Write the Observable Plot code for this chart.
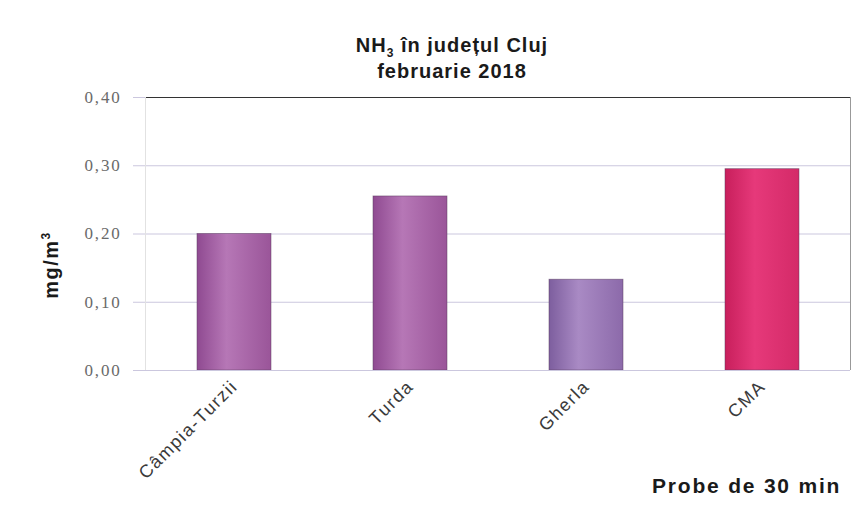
<!DOCTYPE html>
<html>
<head>
<meta charset="utf-8">
<script src="https://cdn.jsdelivr.net/npm/d3@7"></script>
<script src="https://cdn.jsdelivr.net/npm/@observablehq/plot@0.6"></script>
<style>
  body { margin: 0; background: #fff; }
  #wrap { position: relative; width: 862px; height: 510px; overflow: hidden; font-family: "Liberation Sans", Arial, sans-serif; }
  .title { position: absolute; left: 202px; width: 500px; text-align: center; font-weight: bold; font-size: 20px; letter-spacing: 1px; color: #1a1a1a; }
  .ylab { position: absolute; left: 51px; top: 265px; transform: translate(-50%, -50%) rotate(-90deg); font-weight: bold; font-size: 20px; letter-spacing: 1.5px; color: #1a1a1a; white-space: nowrap; }
  .xlab { position: absolute; left: 652px; top: 474px; font-weight: bold; font-size: 21px; letter-spacing: 1.8px; color: #1a1a1a; white-space: nowrap; }
</style>
</head>
<body>
<div id="wrap">
  <div id="chart"></div>
  <div class="title" style="top:34px">NH<sub style="font-size:12px">3</sub> în județul Cluj</div>
  <div class="title" style="top:60px">februarie 2018</div>
  <div class="ylab">mg/m<sup style="font-size:12px">3</sup></div>
  <div class="xlab">Probe de 30 min</div>
</div>
<script>
const stations = ["Câmpia-Turzii", "Turda", "Gherla", "CMA"];
const values = [0.20, 0.255, 0.133, 0.295];
const yTicks = [0, 0.1, 0.2, 0.3, 0.4];
const barColors = [
  ["#8f4a91", "#b677b6", "#9a5599"],
  ["#8f4a91", "#b677b6", "#9a5599"],
  ["#7d5e9e", "#a98ac4", "#8c6aaa"],
  ["#c81f5c", "#e6397a", "#d42a68"]
];

const data = stations.map((s, i) => ({station: s, value: values[i], fill: `url(#bar${i})`}));

const chart = Plot.plot({
  width: 862,
  height: 510,
  marginLeft: 145,
  marginRight: 12,
  marginTop: 97,
  marginBottom: 140,
  style: {background: "transparent", fontFamily: "Liberation Sans, Arial, sans-serif"},
  x: {domain: stations, paddingInner: 0.58, paddingOuter: 0.29, label: null},
  y: {domain: [0, 0.4], label: null},
  color: {type: "identity"},
  marks: [
    Plot.gridY(yTicks, {stroke: "#cbc7de", strokeOpacity: 1, strokeWidth: 1}),
    Plot.ruleY([0.4], {stroke: "#333", strokeWidth: 1.2}),
    Plot.axisY(yTicks, {
      tickSize: 12, stroke: "#cbc7de", strokeOpacity: 1, tickPadding: 12,
      tickFormat: d => d3.format(".2f")(d).replace(".", ","),
      fontFamily: "Liberation Serif, serif", fontSize: 17, fill: "#6a6a6a"
    }),
    Plot.axisX({
      tickSize: 0, tickRotate: -45, tickPadding: 13, fontSize: 18, fill: "#3a3a3a",
      fontFamily: "Liberation Sans, Arial, sans-serif"
    }),
    Plot.barY(data, {x: "station", y: "value", fill: "fill", stroke: "#5a3a5e", strokeWidth: 0.8, strokeOpacity: 0.6}),
    Plot.frame({anchor: "right", stroke: "#999", strokeDasharray: "2,1"}),
    Plot.frame({anchor: "left", stroke: "#e2e2e2"}),
    Plot.ruleY([0], {stroke: "#cbc7de"})
  ]
});

const svg = d3.select(chart);
const defs = svg.insert("defs", ":first-child");
barColors.forEach((c, i) => {
  const g = defs.append("linearGradient").attr("id", `bar${i}`).attr("x1", 0).attr("x2", 1).attr("y1", 0).attr("y2", 0);
  g.append("stop").attr("offset", "0%").attr("stop-color", c[0]);
  g.append("stop").attr("offset", "40%").attr("stop-color", c[1]);
  g.append("stop").attr("offset", "100%").attr("stop-color", c[2]);
});
svg.selectAll("[aria-label='y-axis tick label'] text").attr("letter-spacing", "1.8px");
svg.selectAll("[aria-label='x-axis tick label'] text").attr("letter-spacing", "1.5px");
document.getElementById("chart").appendChild(chart);
</script>
</body>
</html>
